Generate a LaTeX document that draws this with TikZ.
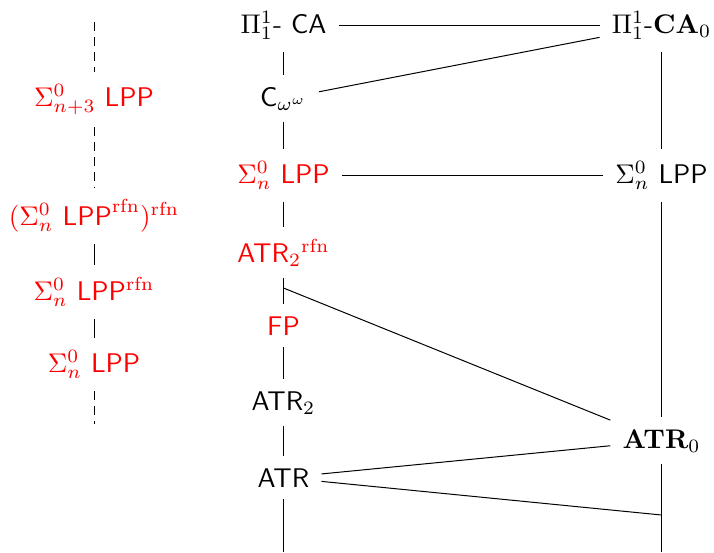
\documentclass[tikz,border=0pt]{standalone}
\usepackage{graphicx}
\newcommand{\lab}[1]{\scalebox{2.7}{#1}}
\begin{document}
\begin{tikzpicture}[x=1pt,y=-1pt,
  lbl/.style={anchor=base,inner sep=12pt},
  hot/.style={lbl,text=red},
  conn/.style={line width=1pt},
  dconn/.style={conn,dash pattern=on 9pt off 6pt}]
\useasboundingbox (0,0) rectangle (714,552);
% left column
\node[hot] (L1) at (94,106) {\lab{$\Sigma^0_{n+3}$ \textsf{LPP}}};
\node[hot] (L2) at (94,225) {\lab{$(\Sigma^0_n\ \textsf{LPP}^{\mathrm{rfn}})^{\mathrm{rfn}}$}};
\node[hot] (L3) at (94,300) {\lab{$\Sigma^0_n$ \textsf{LPP}$^{\mathrm{rfn}}$}};
\node[hot] (L4) at (94,372) {\lab{$\Sigma^0_n$ \textsf{LPP}}};
\coordinate (ltop) at (94,22);
\coordinate (lbot) at (94,424);
% middle column
\node[lbl] (M1) at (283.5,33) {\lab{$\Pi^1_1$\textsf{- CA}}};
\node[lbl] (M2) at (283.5,106) {\lab{$\mathsf{C}_{\omega^\omega}$}};
\node[hot] (M3) at (283.5,183) {\lab{$\Sigma^0_n$ \textsf{LPP}}};
\node[hot] (M4) at (283.5,262) {\lab{$\mathsf{ATR}_2{}^{\mathrm{rfn}}$}};
\node[hot] (M5) at (283.5,335) {\lab{\textsf{FP}}};
\node[lbl] (M6) at (283.5,410) {\lab{$\mathsf{ATR}_2$}};
\node[lbl] (M7) at (283.5,487) {\lab{\textsf{ATR}}};
\coordinate (c1) at (283.5,288);
\coordinate (mbot) at (283.5,552);
% right column
\node[lbl] (R1) at (661.5,33) {\lab{$\Pi^1_1$-$\mathbf{CA}_0$}};
\node[lbl] (R2) at (661.5,183) {\lab{$\Sigma^0_n$ \textsf{LPP}}};
\node[lbl] (R3) at (661.5,448) {\lab{$\mathbf{ATR}_0$}};
\coordinate (j1) at (661.5,515);
\coordinate (rbot) at (661.5,552);
% left connectors
\draw[dconn] (ltop) -- (L1);
\draw[dconn] (L1) -- (L2);
\draw[conn] (L2) -- (L3);
\draw[conn] (L3) -- (L4);
\draw[dconn] (L4) -- (lbot);
% middle connectors
\draw[conn] (M1) -- (M2);
\draw[conn] (M2) -- (M3);
\draw[conn] (M3) -- (M4);
\draw[conn] (M4) -- (M5);
\draw[conn] (M5) -- (M6);
\draw[conn] (M6) -- (M7);
\draw[conn] (M7) -- (mbot);
% right connectors
\draw[conn] (R1) -- (R2);
\draw[conn] (R2) -- (R3);
\draw[conn] (R3) -- (rbot);
% cross connectors
\draw[conn] (M1) -- (R1);
\draw[conn] (M2) -- (R1);
\draw[conn] (M3) -- (R2);
\draw[conn] (c1) -- (R3);
\draw[conn] (M7) -- (R3);
\draw[conn] (M7) -- (j1);
\end{tikzpicture}
\end{document}
